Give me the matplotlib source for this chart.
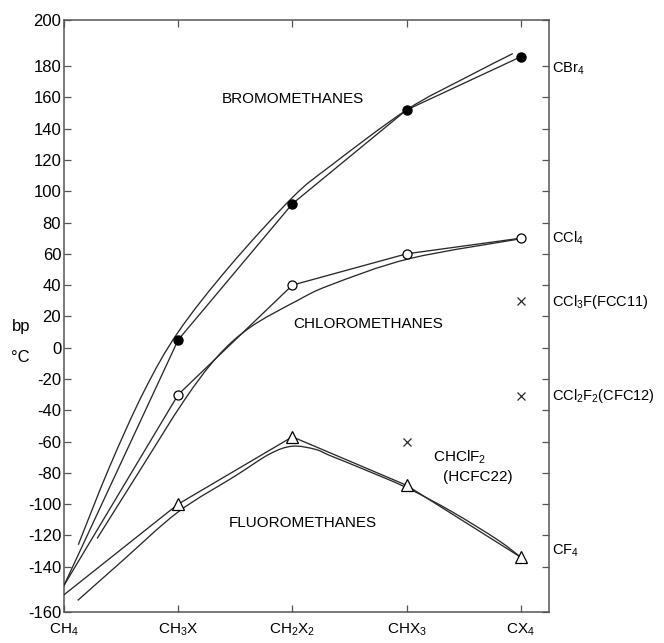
import matplotlib
matplotlib.use("Agg")
import matplotlib.pyplot as plt
from matplotlib.path import Path
from matplotlib.patches import PathPatch

plt.rcParams['font.family'] = ['Liberation Sans', 'DejaVu Sans']
plt.rcParams['mathtext.fontset'] = 'custom'
plt.rcParams['mathtext.rm'] = 'Liberation Sans'
plt.rcParams['mathtext.default'] = 'regular'

# ---- data ----
categories = ['CH$_4$', 'CH$_3$X', 'CH$_2$X$_2$', 'CHX$_3$', 'CX$_4$']
cat_pos = [0, 1, 2, 3, 4]

bromo_bp = [-152, 5, 92, 152, 186]
chloro_bp = [-152, -30, 40, 60, 70]
fluoro_bp = [-158, -100, -57, -88, -134]

# smooth trend curves (category position, bp)
bromo_curve_x = [0.125, 0.4, 0.7, 1.0, 1.45, 2.0, 2.33, 3.0, 3.5, 3.93]
bromo_curve_y = [-126, -76, -28, 10, 52, 96, 116, 152, 172, 188]
chloro_curve_x = [0.29, 0.66, 1.05, 1.34, 1.63, 2.04, 2.33, 3.03, 4.03]
chloro_curve_y = [-122, -79, -34, -6, 13, 30, 40, 57, 70]
fluoro_curve_x = [0.12, 0.5, 1.0, 1.5, 1.8, 2.0, 2.2, 2.33, 2.6, 3.0, 3.4, 3.8, 4.0]
fluoro_curve_y = [-161.6, -137, -105, -82, -68, -63, -65, -69, -77, -89.5, -105, -123, -134]

# mixed halomethanes (x marks)
mixed_names = ['CCl$_3$F(FCC11)', 'CCl$_2$F$_2$(CFC12)', 'CHClF$_2$']
mixed_pos = [4, 4, 3]
mixed_bp = [30, -31, -60]

ytick_values = [-140, -120, -100, -80, -60, -40, -20, 0, 20, 40, 60, 80, 100, 120, 140, 160, 180]
ytick_labels = ['-140', '-120', '-100', '-80', '-60', '-40', '-20', '0', '20', '40', '60',
                '80', '100', '120', '140', '160', '180']
y_top_label = '200'
y_bottom_label = '-160'

# ---- figure ----
W, H = 664, 643
fig = plt.figure(figsize=(W / 100, H / 100), dpi=100)
ax = fig.add_axes([64 / W, 1 - 612 / H, (549 - 64) / W, (612 - 20) / H])
y_lo, y_hi = -169.0, 209.5
ax.set_xlim(0, 4.247)
ax.set_ylim(y_lo, y_hi)

lc = '#2a2a2a'
lw = 0.95


def smooth_curve(ax, xs, ys, **kw):
    """Draw a smooth (Catmull-Rom as cubic Bezier) path through the traced points."""
    pts = list(zip(xs, ys))
    n = len(pts)
    verts = [pts[0]]
    codes = [Path.MOVETO]
    for i in range(n - 1):
        p0 = pts[i - 1] if i > 0 else pts[i]
        p1 = pts[i]
        p2 = pts[i + 1]
        p3 = pts[i + 2] if i + 2 < n else pts[i + 1]
        c1 = (p1[0] + (p2[0] - p0[0]) / 6, p1[1] + (p2[1] - p0[1]) / 6)
        c2 = (p2[0] - (p3[0] - p1[0]) / 6, p2[1] - (p3[1] - p1[1]) / 6)
        verts += [c1, c2, p2]
        codes += [Path.CURVE4] * 3
    ax.add_patch(PathPatch(Path(verts, codes), fill=False, **kw))


# polylines through data
ax.plot(cat_pos, bromo_bp, color=lc, lw=lw, marker='o', markevery=[1, 2, 3, 4],
        ms=6.5, mfc='black', mec='black', zorder=3)
ax.plot(cat_pos, chloro_bp, color=lc, lw=lw, marker='o', markevery=[1, 2, 3, 4],
        ms=6.5, mfc='white', mec='black', mew=0.9, zorder=3)
ax.plot(cat_pos, fluoro_bp, color=lc, lw=lw, marker='^', markevery=[1, 2, 3, 4],
        ms=9, mfc='white', mec='black', mew=0.9, zorder=3)

# smooth trend curves
smooth_curve(ax, bromo_curve_x, bromo_curve_y, edgecolor=lc, lw=lw, zorder=2)
smooth_curve(ax, chloro_curve_x, chloro_curve_y, edgecolor=lc, lw=lw, zorder=2)
smooth_curve(ax, fluoro_curve_x, fluoro_curve_y, edgecolor=lc, lw=lw, zorder=2)

# mixed compounds
ax.plot(mixed_pos, mixed_bp, linestyle='none', marker='x', ms=6, mew=0.9, color=lc, zorder=3)

# ticks
ax.set_xticks(cat_pos)
ax.set_xticklabels(categories, fontsize=11)
ax.set_yticks(ytick_values + [y_lo, y_hi])
ax.set_yticklabels(ytick_labels + [y_bottom_label, y_top_label], fontsize=12)
ax.tick_params(axis='both', direction='in', length=5, width=0.9, color='#555555',
               top=True, right=True)
ax.tick_params(axis='y', pad=2)
ax.tick_params(axis='x', pad=7)
for s in ax.spines.values():
    s.set_color('#555555')
    s.set_linewidth(1.1)

# series labels
ax.text((293 - 64) / 114.2, 159, 'BROMOMETHANES', fontsize=11, ha='center', va='center')
ax.text((368 - 64) / 114.2, 15, 'CHLOROMETHANES', fontsize=11, ha='center', va='center')
ax.text((303 - 64) / 114.2, -112, 'FLUOROMETHANES', fontsize=11, ha='center', va='center')
ax.text((433 - 64) / 114.2, -70, mixed_names[2], fontsize=11, ha='left', va='center')
ax.text((443 - 64) / 114.2, -83, '(HCFC22)', fontsize=11, ha='left', va='center')

# right-side labels
right_labels = ['CBr$_4$', 'CCl$_4$', mixed_names[0], mixed_names[1], 'CF$_4$']
right_label_y = [178, 70, 29, -31, -130]
for lab, yv in zip(right_labels, right_label_y):
    ax.annotate(lab, xy=(1.0, yv), xycoords=('axes fraction', 'data'),
                xytext=(3, 0), textcoords='offset pixels', fontsize=10.5,
                ha='left', va='center', annotation_clip=False)

# axis unit label
fig.text(21 / W, 1 - 327 / H, 'bp', fontsize=12, ha='center', va='center')
fig.text(20 / W, 1 - 357 / H, '°C', fontsize=12, ha='center', va='center')

fig.savefig('out.png', dpi=100)
